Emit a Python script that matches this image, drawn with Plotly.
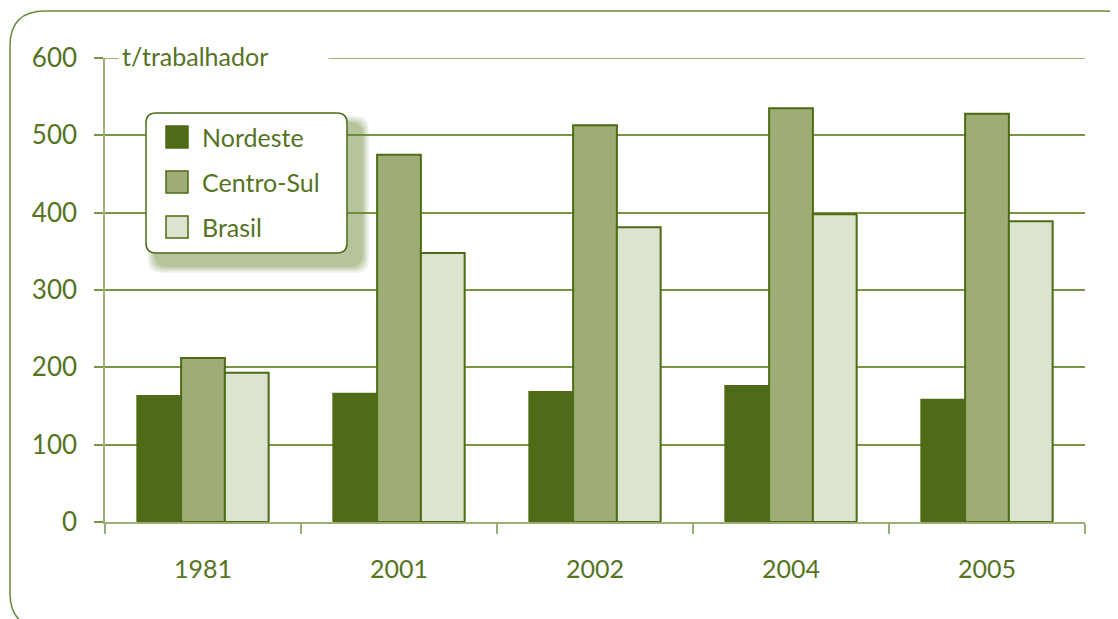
import plotly.graph_objects as go

# data
years = ['1981', '2001', '2002', '2004', '2005']
series_names = ['Nordeste', 'Centro-Sul', 'Brasil']
nordeste = [163, 166, 168, 176, 158]
centro_sul = [212, 475, 513, 535, 528]
brasil = [193, 348, 381, 398, 389]
y_ticks = [0, 100, 200, 300, 400, 500, 600]

FILL = ['#506b18', '#9dad75', '#dce3cf']
EDGE = '#4d6b14'
TEXT = '#56731f'
GRID = '#7a9446'
AXIS = '#9aae78'
FONT = 'Lato'

OFF = 8  # page body margin
W, H = 1110, 611
L, R, T, B = 97, 33, 50, 97


def px_x(p):
    return (p - OFF - L) / (W - L - R)


def px_y(p):
    return (H - B - (p - OFF)) / (H - T - B)


def rounded_rect(x0, y0, x1, y1, r):
    return ('M {a},{b} L {a},{c} Q {a},{d} {e},{d} L {f},{d} Q {g},{d} {g},{c} '
            'L {g},{b} Q {g},{h} {f},{h} L {e},{h} Q {a},{h} {a},{b} Z').format(
        a=px_x(x0), b=px_y(y1 - r), c=px_y(y0 + r), d=px_y(y0),
        e=px_x(x0 + r), f=px_x(x1 - r), g=px_x(x1), h=px_y(y1))


fig = go.Figure()
for name, vals, col in zip(series_names, [nordeste, centro_sul, brasil], FILL):
    fig.add_trace(go.Bar(x=years, y=vals, name=name, marker_color=col,
                         marker_line_color=EDGE if name != 'Nordeste' else col,
                         marker_line_width=2, showlegend=False))

shapes = []
# outer rounded frame
shapes.append(dict(type='path', xref='paper', yref='paper', layer='below',
                   path=rounded_rect(10, 11, 1140, 628, 35),
                   line=dict(color='#6b8a3a', width=1.5)))
# top gridline (plotly skips the one on the range edge)
shapes.append(dict(type='line', xref='paper', yref='y', x0=px_x(96), x1=1, y0=600, y1=600,
                   layer='below', line=dict(color=GRID, width=1.5)))
# legend shadow (a few soft layers)
for i, op in enumerate([0.10, 0.10, 0.12, 0.14, 0.16]):
    g = 8 - 1.5 * i
    shapes.append(dict(type='path', xref='paper', yref='paper', layer='above',
                       path=rounded_rect(150 + 6 - g, 118 + 6 - g, 347 + 14 + g, 253 + 12 + g, 14),
                       fillcolor='#6b8a3a', opacity=op, line=dict(width=0)))
# legend box
shapes.append(dict(type='path', xref='paper', yref='paper', layer='above',
                   path=rounded_rect(146, 113, 347, 253, 10),
                   fillcolor='white', line=dict(color=EDGE, width=1.5)))

annotations = []
for i, (name, col) in enumerate(zip(series_names, FILL)):
    cy = 137 + 45 * i
    shapes.append(dict(type='rect', xref='paper', yref='paper', layer='above',
                       x0=px_x(166), x1=px_x(188), y0=px_y(cy + 11), y1=px_y(cy - 11),
                       fillcolor=col, line=dict(color=EDGE, width=1.5)))
    annotations.append(dict(xref='paper', yref='paper', x=px_x(200), y=px_y(cy),
                            xanchor='left', yanchor='middle', text=name, showarrow=False,
                            font=dict(family=FONT, size=25, color=TEXT)))

# unit label breaking the top gridline
annotations.append(dict(xref='paper', yref='paper', x=px_x(118), y=px_y(56), xanchor='left',
                        yanchor='middle', text='t/trabalhador', showarrow=False,
                        width=203, align='left', bgcolor='white', borderpad=3,
                        font=dict(family=FONT, size=25, color=TEXT)))

fig.update_layout(
    width=W, height=H, margin=dict(l=L, r=R, t=T, b=B, pad=0),
    plot_bgcolor='white', paper_bgcolor='white',
    barmode='group', bargap=0.33, bargroupgap=0,
    font=dict(family=FONT, size=25, color=TEXT),
    shapes=shapes, annotations=annotations,
)
fig.update_xaxes(type='category', tickson='boundaries', ticks='outside', ticklen=10,
                 tickcolor=AXIS, tickwidth=1.5, showline=True, linecolor=AXIS, linewidth=1.5,
                 showgrid=False, ticklabelstandoff=24,
                 tickfont=dict(family=FONT, size=25, color=TEXT))
fig.update_yaxes(range=[0, 600], tickvals=y_ticks, ticks='outside', ticklen=9,
                 tickcolor=GRID, tickwidth=1.5, showgrid=True, gridcolor=GRID, gridwidth=1.5,
                 showline=True, linecolor=AXIS, linewidth=1.5, zeroline=False,
                 ticklabelstandoff=12, tickfont=dict(family=FONT, size=26, color=TEXT))

fig.write_html("out.html")
